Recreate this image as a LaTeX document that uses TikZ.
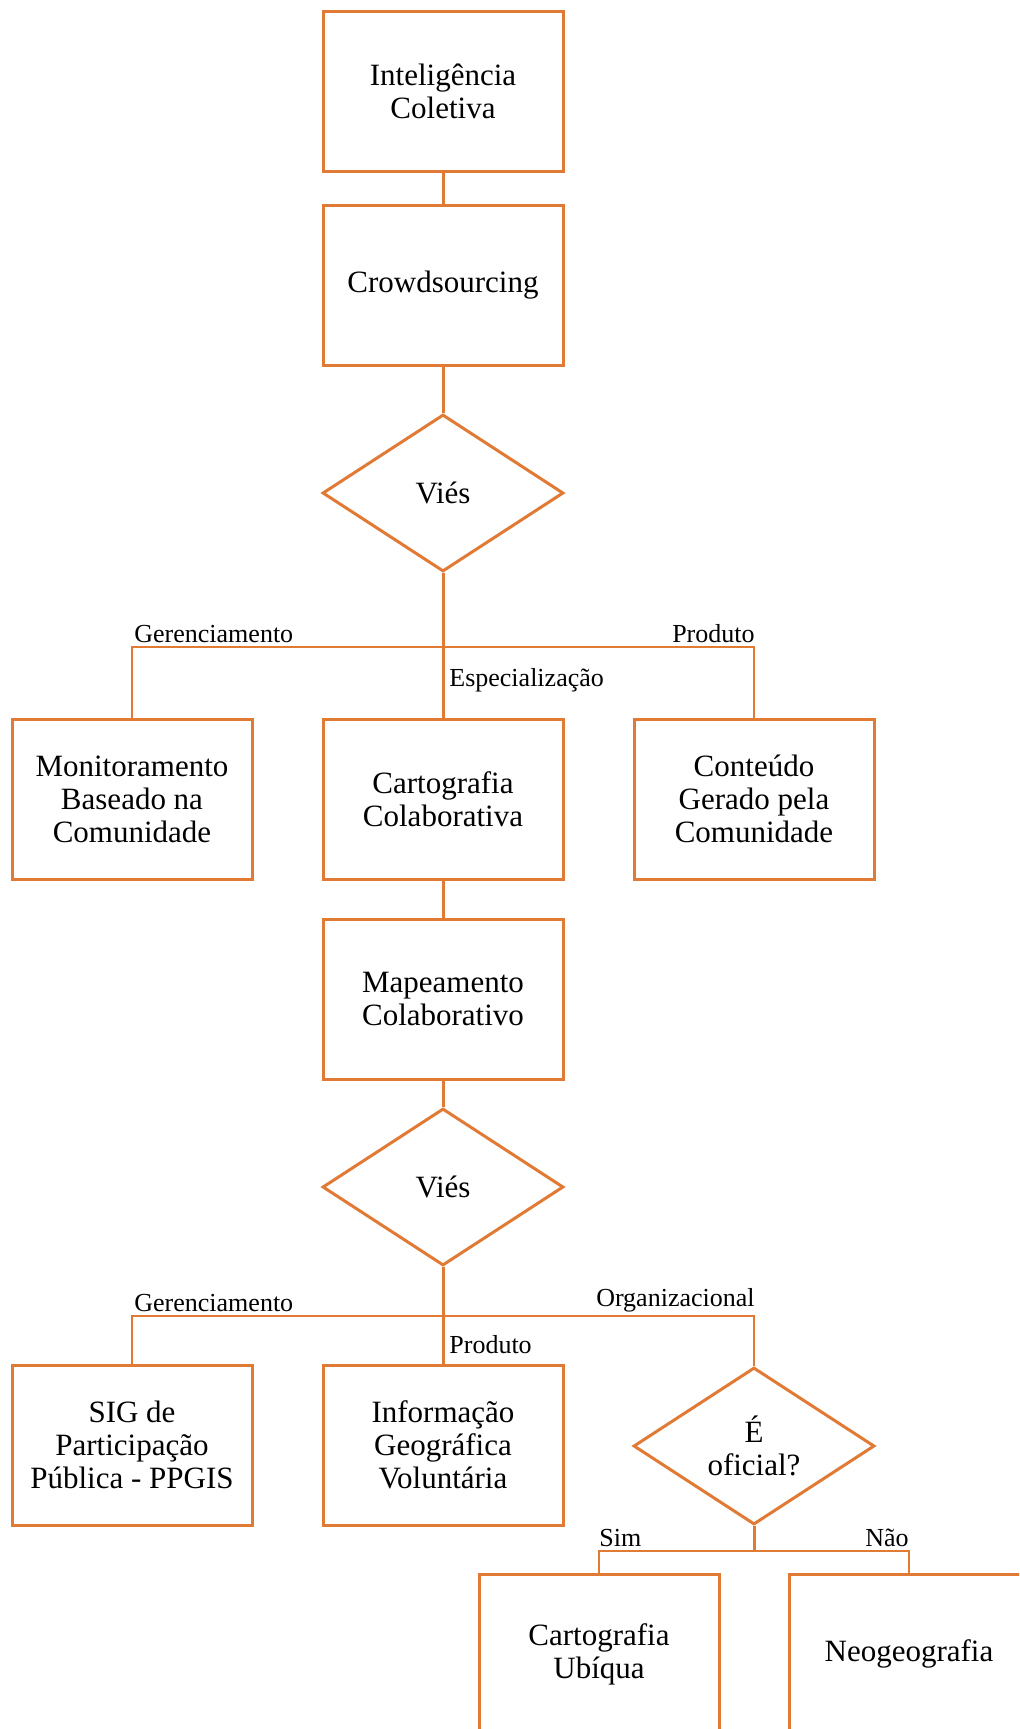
\documentclass[tikz,border=0pt]{standalone}
\usepackage{fontspec}
\setmainfont{Liberation Serif}
\usetikzlibrary{shapes.geometric}
\definecolor{orng}{RGB}{224,122,52}
\tikzset{
  box/.style={draw=orng, line width=1.5pt, fill=white, minimum width=120pt, minimum height=80pt, inner sep=2pt, align=center, font=\fontsize{15.5}{16.5}\selectfont},
  dec/.style={draw=orng, line width=1.5pt, fill=white, diamond, minimum width=120.5pt, minimum height=78.5pt, inner sep=0pt, align=center, font=\fontsize{15.5}{16.5}\selectfont},
  thick line/.style={draw=orng, line width=1.5pt},
  thin line/.style={draw=orng, line width=1pt},
  lbl/.style={font=\fontsize{13}{15}\selectfont, inner sep=1pt}
}
\begin{document}
\begin{tikzpicture}[x=0.5pt,y=-0.5pt]
\useasboundingbox (0,0) rectangle (1019,1729);
\clip (0,0) rectangle (1019,1729);
% nodes
\node[box] (ic) at (443,91) {Inteligência\\Coletiva};
\node[box] (cs) at (443,285) {Crowdsourcing};
\node[dec] (v1) at (443,493) {Viés};
\coordinate (j1) at (443,647);
\node[box] (mbc) at (132,799) {Monitoramento\\Baseado na\\Comunidade};
\node[box] (cc) at (443,799) {Cartografia\\Colaborativa};
\node[box] (cgc) at (754,799) {Conteúdo\\Gerado pela\\Comunidade};
\node[box] (mc) at (443,999) {Mapeamento\\Colaborativo};
\node[dec] (v2) at (443,1187) {Viés};
\coordinate (j2) at (443,1316);
\node[box] (sig) at (132,1445) {SIG de\\Participação\\Pública - PPGIS};
\node[box] (igv) at (443,1445) {Informação\\Geográfica\\Voluntária};
\node[dec] (of) at (754,1446) {É\\oficial?};
\coordinate (j3) at (754,1551);
\node[box] (cu) at (599,1654) {Cartografia\\Ubíqua};
\node[box] (neo) at (909,1654) {Neogeografia};
% connectors
\begin{scope}[on background layer/.style={}]
\end{scope}
\draw[thick line] (ic.south) -- (cs.north);
\draw[thick line] (cs.south) -- (v1.north);
\draw[thin line] (mbc.north) |- (j1) -| (cgc.north);
\draw[thick line] (v1.south) -- (j1) -- (cc.north);
\draw[thick line] (cc.south) -- (mc.north);
\draw[thick line] (mc.south) -- (v2.north);
\draw[thin line] (sig.north) |- (j2) -| (of.north);
\draw[thick line] (v2.south) -- (j2) -- (igv.north);
\draw[thin line] (cu.north) |- (j3) -| (neo.north);
\draw[thick line] (of.south) -- (j3);
% labels
\node[lbl, anchor=south west] (l1) at (132,645) {Gerenciamento};
\node[lbl, anchor=south east] (l2) at (757,645) {Produto};
\node[lbl, anchor=north west] (l3) at (447,666) {Especialização};
\node[lbl, anchor=south west] (l4) at (132,1314) {Gerenciamento};
\node[lbl, anchor=south east] (l5) at (757,1314) {Organizacional};
\node[lbl, anchor=north west] (l6) at (447,1333) {Produto};
\node[lbl, anchor=south west] (l7) at (597,1549) {Sim};
\node[lbl, anchor=south east] (l8) at (911,1549) {Não};
\end{tikzpicture}
\end{document}
